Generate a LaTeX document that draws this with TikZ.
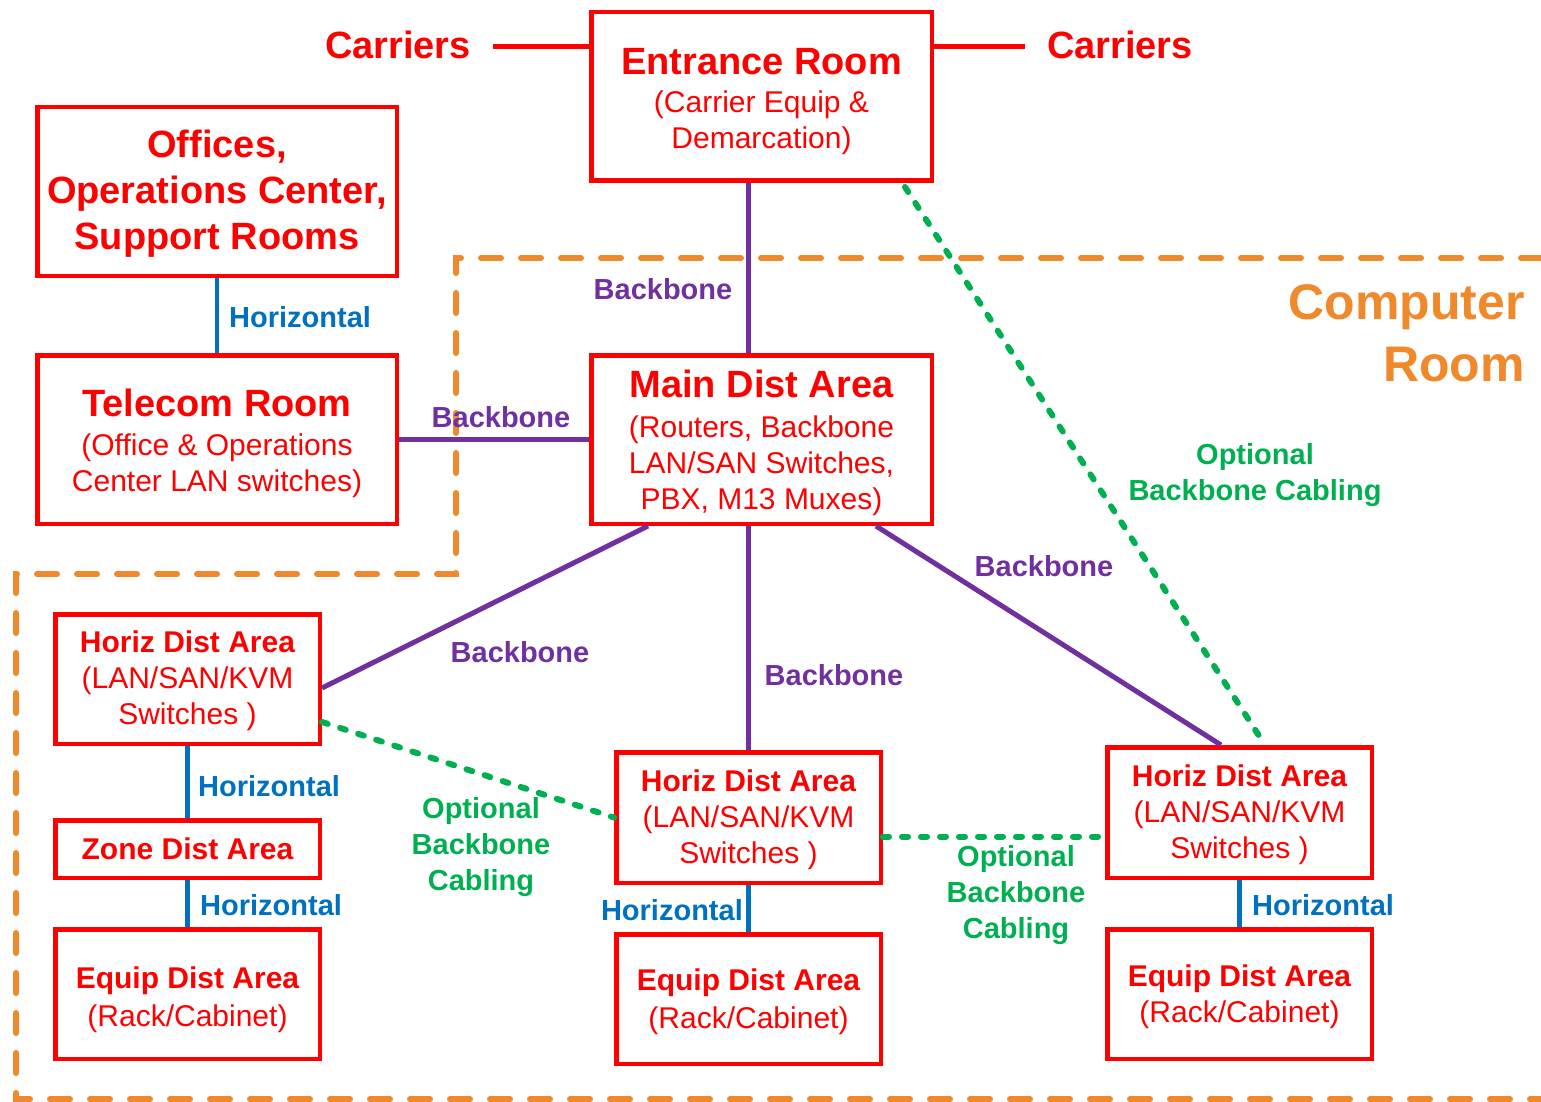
\documentclass[tikz,border=0pt]{standalone}
\usepackage{fontspec}
\setmainfont{Liberation Sans}
\definecolor{cred}{RGB}{255,0,0}
\definecolor{cpurple}{RGB}{112,48,160}
\definecolor{cblue}{RGB}{0,112,192}
\definecolor{cgreen}{RGB}{0,176,80}
\definecolor{corange}{RGB}{240,137,43}
\newcommand\bigttl[2]{{\bfseries\fontsize{38}{36}\selectfont\rule{0pt}{#1pt}#2}}
\newcommand\smttl[2]{{\bfseries\rule{0pt}{#1pt}#2}}
\begin{document}
\begin{tikzpicture}[x=1pt,y=-1pt,
  box/.style={draw=cred, line width=4.5pt, rectangle, inner sep=0pt, align=center, text=cred,
              font=\fontsize{30}{36}\selectfont},
  bigbox/.style={box, minimum height=168.5pt},
  smallbox/.style={box, minimum width=264.5pt, minimum height=129.5pt},
  backbone/.style={draw=cpurple, line width=5pt},
  horiz/.style={draw=cblue, line width=4.5pt},
  optional/.style={draw=cgreen, line width=6pt, line cap=round, dash pattern=on 6pt off 13pt},
  carrierline/.style={draw=cred, line width=5pt},
  room/.style={draw=corange, line width=6pt, line cap=round, dash pattern=on 20pt off 20pt},
  lbl/.style={inner sep=0pt, font=\bfseries\fontsize{29}{36}\selectfont, align=center},
  bblbl/.style={lbl, text=cpurple},
  hlbl/.style={lbl, text=cblue},
  olbl/.style={lbl, text=cgreen},
]
\useasboundingbox (0,0) rectangle (1541,1102);

% computer room boundary
\draw[room] (1541,258) -- (456,258) -- (456,574) -- (16,574) -- (16,1099) -- (1541,1099);
\node[anchor=east, inner sep=0pt, text=corange, align=right,
      font=\bfseries\fontsize{50}{62}\selectfont] (croom) at (1525,333) {Computer\\Room};

% boxes
\node[bigbox, minimum width=340.5pt] (entrance) at (761.5,96.5)
  {\bigttl{35.5}{Entrance Room}\\[2pt](Carrier Equip \&\\Demarcation)};
\node[bigbox, minimum width=359.5pt, font=\bfseries\fontsize{38}{46}\selectfont] (offices) at (217,191.5)
  {\rule{0pt}{32pt}Offices,\\Operations Center,\\Support Rooms};
\node[bigbox, minimum width=359.5pt] (telecom) at (217,439.5)
  {\bigttl{35.5}{Telecom Room}\\[3pt](Office \& Operations\\Center LAN switches)};
\node[bigbox, minimum width=340.5pt] (main) at (761.5,439.5)
  {\bigttl{34.5}{Main Dist Area}\\[4pt](Routers, Backbone\\LAN/SAN Switches,\\PBX, M13 Muxes)};

\node[smallbox] (hdal) at (187.5,679) {\smttl{25.5}{Horiz Dist Area}\\(LAN/SAN/KVM\\Switches )};
\node[box, minimum width=264.5pt, minimum height=57.5pt] (zone) at (187.5,849) {\smttl{0}{Zone Dist Area}};
\node[smallbox] (edal) at (187.5,994) {\smttl{33.5}{Equip Dist Area}\\[2pt](Rack/Cabinet)};

\node[smallbox, minimum height=130.5pt] (hdam) at (748.5,817.5) {\smttl{25.5}{Horiz Dist Area}\\(LAN/SAN/KVM\\Switches )};
\node[smallbox] (edam) at (748.5,999) {\smttl{26.5}{Equip Dist Area}\\[2pt](Rack/Cabinet)};

\node[smallbox, minimum height=130.5pt] (hdar) at (1239.5,812.5) {\smttl{25.5}{Horiz Dist Area}\\(LAN/SAN/KVM\\Switches )};
\node[smallbox] (edar) at (1239.5,994) {\smttl{27.5}{Equip Dist Area}\\(Rack/Cabinet)};

% carriers
\node[inner sep=0pt, text=cred, font=\bfseries\fontsize{38}{46}\selectfont] (carrL) at (398,45) {Carriers};
\node[inner sep=0pt, text=cred, font=\bfseries\fontsize{38}{46}\selectfont] (carrR) at (1120,45) {Carriers};
\coordinate (cl) at (493,47);
\coordinate (cr) at (1025,47);
\draw[carrierline] (cl) -- (cl -| entrance.west);
\draw[carrierline] (cr -| entrance.east) -- (cr);

% backbone connectors
\draw[backbone] (entrance.south -| hdam.north) -- (main.north -| hdam.north);
\draw[backbone] (telecom.east) -- (main.west);
\draw[backbone] ([xshift=59pt]main.south west) -- ([yshift=-9pt]hdal.east);
\draw[backbone] (main.south -| hdam.north) -- (hdam.north);
\draw[backbone] ([xshift=-58pt]main.south east) -- ([xshift=116pt]hdar.north west);

% horizontal connectors
\draw[horiz] (offices.south) -- (telecom.north);
\draw[horiz] (hdal.south) -- (zone.north);
\draw[horiz] (zone.south) -- (edal.north);
\draw[horiz] (hdam.south) -- (edam.north);
\draw[horiz] (hdar.south) -- (edar.north);

% optional backbone cabling
\draw[optional] ([xshift=-29pt,yshift=-4pt]entrance.south east) -- ([xshift=160pt]hdar.north west);
\draw[optional] ([yshift=-43pt]hdal.east) -- (hdam.west);
\draw[optional] ([yshift=-19pt]hdam.east) coordinate (g3) -- (g3 -| hdar.west);

% labels
\node[bblbl] (lb1) at (663,289) {Backbone};
\node[bblbl] (lb2) at (501,417) {Backbone};
\node[bblbl] (lb3) at (520,652) {Backbone};
\node[bblbl] (lb4) at (834,675) {Backbone};
\node[bblbl] (lb5) at (1044,566) {Backbone};

\node[hlbl, anchor=west] (lh1) at (229,317) {Horizontal};
\node[hlbl, anchor=west] (lh2) at (198,786) {Horizontal};
\node[hlbl, anchor=west] (lh3) at (200,905) {Horizontal};
\node[hlbl, anchor=east] (lh4) at (743,910) {Horizontal};
\node[hlbl, anchor=west] (lh5) at (1252,905) {Horizontal};

\node[olbl] (lo1) at (1255,475) {Optional\\Backbone Cabling};
\node[olbl] (lo2) at (481,847) {Optional\\Backbone\\Cabling};
\node[olbl] (lo3) at (1016,895) {Optional\\Backbone\\Cabling};
\end{tikzpicture}
\end{document}
